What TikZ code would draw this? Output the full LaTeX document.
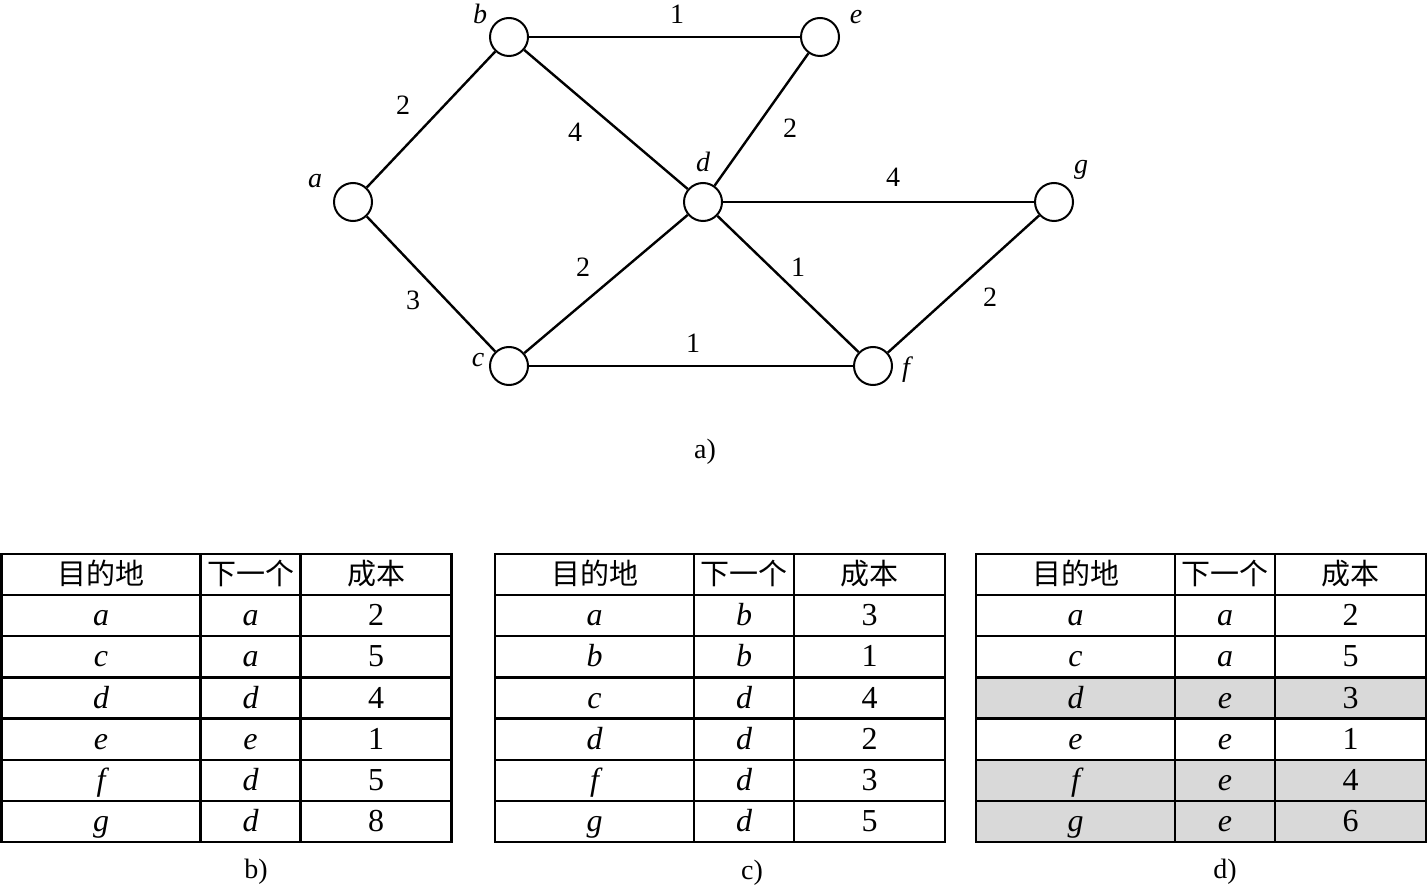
\documentclass[tikz,border=0pt]{standalone}
\usepackage{fontspec}
\setmainfont{Liberation Serif}
\newfontfamily\cjk{Noto Sans CJK SC}
\usepackage{tikz}
\usepackage{xcolor}
\usetikzlibrary{matrix}
\definecolor{cellgray}{HTML}{D9D9D9}
\newcommand{\bodyfont}{\fontsize{16pt}{19pt}\selectfont}
\newcommand{\headfont}{\cjk\fontsize{14.5pt}{17pt}\selectfont}
\tikzset{
  vertex/.style={circle,draw,line width=1pt,minimum size=19pt,
                 inner sep=0pt,fill=white},
  vname/.style={inner sep=0pt,font=\fontsize{14pt}{17pt}\selectfont\itshape},
  weight/.style={inner sep=0pt,font=\fontsize{14pt}{17pt}\selectfont},
  caption/.style={inner sep=0pt,font=\fontsize{14pt}{17pt}\selectfont},
  link/.style={line width=1.2pt},
  routetab/.style={matrix of nodes,row sep=-1.2pt,column sep=-1.2pt,
    nodes={draw,line width=1.2pt,outer sep=0pt,anchor=center,inner sep=0pt,
           minimum height=20.57pt,text height=12pt,text depth=2pt,
           font=\bodyfont\itshape},
    column 1/.style={nodes={minimum width=99.5pt}},
    column 2/.style={nodes={minimum width=50pt}},
    column 3/.style={nodes={minimum width=75.5pt,font=\bodyfont}},
    row 1/.style={nodes={font=\headfont}}},
  shaded/.style={nodes={fill=cellgray}}
}
\begin{document}
\begin{tikzpicture}[x=0.5pt,y=-0.5pt]
  \useasboundingbox (0,0) rectangle (1427,887);

  \node[vertex] (a) at (353,202) {};
  \node[vertex] (b) at (509,37) {};
  \node[vertex] (c) at (509,366) {};
  \node[vertex] (d) at (703,202) {};
  \node[vertex] (e) at (820,37) {};
  \node[vertex] (f) at (873,366) {};
  \node[vertex] (g) at (1054,202) {};
  \foreach \u/\v in {a/b,a/c,b/e,b/d,c/d,c/f,d/e,d/g,d/f,f/g}
    \draw[link] (\u) -- (\v);

  \node[vname] (la) at (315,181) {a};
  \node[vname] (lb) at (480,14) {b};
  \node[vname] (lc) at (478,360) {c};
  \node[vname] (ld) at (703,162) {d};
  \node[vname] (le) at (856,17) {e};
  \node[vname] (lf) at (906,370) {f};
  \node[vname] (lg) at (1081,170) {g};

  \node[weight] (wab) at (403,105) {2};
  \node[weight] (wac) at (413,300) {3};
  \node[weight] (wbe) at (677,14) {1};
  \node[weight] (wbd) at (575,132) {4};
  \node[weight] (wcd) at (583,267) {2};
  \node[weight] (wcf) at (693,343) {1};
  \node[weight] (wde) at (790,128) {2};
  \node[weight] (wdg) at (893,177) {4};
  \node[weight] (wdf) at (798,267) {1};
  \node[weight] (wfg) at (990,297) {2};

  \node[caption] (capa) at (705,452) {a)};

  \matrix[routetab] (tabb) at (226.5,698) {
    目的地 & 下一个 & 成本 \\
    a & a & 2 \\
    c & a & 5 \\
    d & d & 4 \\
    e & e & 1 \\
    f & d & 5 \\
    g & d & 8 \\
  };
  \matrix[routetab] (tabc) at (720,698) {
    目的地 & 下一个 & 成本 \\
    a & b & 3 \\
    b & b & 1 \\
    c & d & 4 \\
    d & d & 2 \\
    f & d & 3 \\
    g & d & 5 \\
  };
  \matrix[routetab,row 4/.style={shaded},row 6/.style={shaded},
          row 7/.style={shaded}] (tabd) at (1201,698) {
    目的地 & 下一个 & 成本 \\
    a & a & 2 \\
    c & a & 5 \\
    d & e & 3 \\
    e & e & 1 \\
    f & e & 4 \\
    g & e & 6 \\
  };

  \node[caption] (capb) at (256,872) {b)};
  \node[caption] (capc) at (752,873) {c)};
  \node[caption] (capd) at (1225,872) {d)};
\end{tikzpicture}
\end{document}
